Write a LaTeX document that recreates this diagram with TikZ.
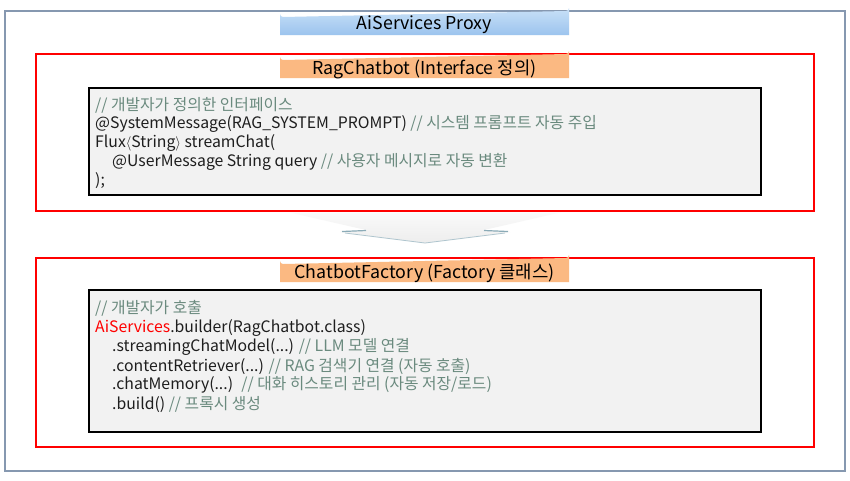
\documentclass[tikz,border=0pt]{standalone}
\usepackage{fontspec}
\setmainfont{Noto Sans CJK KR}
\usetikzlibrary{shadings}
\definecolor{frameblue}{RGB}{134,152,176}
\definecolor{codebg}{RGB}{242,242,242}
\definecolor{cmt}{RGB}{106,138,126}
\definecolor{codetxt}{RGB}{30,30,30}
\definecolor{orangebar}{RGB}{251,185,130}
\definecolor{bluetop}{RGB}{200,224,247}
\definecolor{bluebot}{RGB}{156,196,238}
\definecolor{arrowedge}{RGB}{110,150,165}
\tikzset{
  x=1pt,y=-1pt,
  outerframe/.style={draw=frameblue,line width=2pt},
  redbox/.style={draw=red,line width=1.2pt},
  codebox/.style={draw=black,line width=1.2pt,fill=codebg},
  codeline/.style={anchor=west,inner sep=0pt,font=\fontsize{15.8}{18}\selectfont,text=codetxt},
  titlebar/.style={minimum width=289pt,minimum height=24pt,inner sep=0pt,font=\fontsize{17.8}{20}\selectfont,text=black},
}
\newcommand{\cm}[1]{\textcolor{cmt}{#1}}
\begin{document}
\begin{tikzpicture}
\useasboundingbox (0,0) rectangle (850,480);
\fill[white] (0,0) rectangle (850,480);
% outer frame
\draw[outerframe] (5,11) rectangle (845,471);
% red boxes
\draw[redbox] (36,54) rectangle (814,211);
\draw[redbox] (36,258) rectangle (814,447);
% code boxes
\draw[codebox] (89,88) rectangle (761,195);
\draw[codebox] (89,290) rectangle (761,432);
% title bars
\path[top color=bluetop,bottom color=bluebot] (280,35) -- (280,14) arc[start angle=180,end angle=90,radius=3] -- (566,11) arc[start angle=90,end angle=0,radius=3] -- (569,35) -- cycle;
\node[titlebar] (proxy) at (424.5,25) {AiServices Proxy};
\path[fill=orangebar] (280,78) -- (280,57) arc[start angle=180,end angle=90,radius=3] -- (566,54) arc[start angle=90,end angle=0,radius=3] -- (569,78) -- cycle;
\node[titlebar] (ragtitle) at (424.5,69) {RagChatbot (Interface 정의)};
\path[fill=orangebar] (280,282) -- (280,261) arc[start angle=180,end angle=90,radius=3] -- (566,258) arc[start angle=90,end angle=0,radius=3] -- (569,282) -- cycle;
\node[titlebar] (facttitle) at (424.5,273) {ChatbotFactory (Factory 클래스)};
% arrow between sections
\path[top color=black!2,bottom color=black!7] (290,212.5) -- (560,212.5) -- (484,230) -- (510,232) -- (425,243) -- (340,232) -- (366,230) -- cycle;
\draw[arrowedge!80,line width=1.2pt] (342,231.5) -- (366,230.5);
\draw[arrowedge!80,line width=1.2pt] (508,231.5) -- (484,230.5);
\draw[arrowedge!55,line width=0.8pt] (345,233) -- (425,243) -- (505,233);
% code lines box 1
\node[codeline] (a1) at (95,105) {\cm{// 개발자가 정의한 인터페이스}};
\node[codeline] (a2) at (95,124) {@SystemMessage(RAG\_SYSTEM\_PROMPT) \cm{// 시스템 프롬프트 자동 주입}};
\node[codeline] (a3) at (95,143) {Flux$\langle$String$\rangle$ streamChat(};
\node[codeline] (a4) at (112,162) {@UserMessage String query \cm{// 사용자 메시지로 자동 변환}};
\node[codeline] (a5) at (95,181) {);};
% code lines box 2
\node[codeline] (b1) at (95,308) {\cm{// 개발자가 호출}};
\node[codeline] (b2) at (95,328) {\textcolor{red}{AiServices}.builder(RagChatbot.class)};
\node[codeline] (b3) at (112,347) {.streamingChatModel(...) \cm{// LLM 모델 연결}};
\node[codeline] (b4) at (112,366) {.contentRetriever(...) \cm{// RAG 검색기 연결 (자동 호출)}};
\node[codeline] (b5) at (112,385) {.chatMemory(...)~ \cm{// 대화 히스토리 관리 (자동 저장/로드)}};
\node[codeline] (b6) at (112,405) {.build() \cm{// 프록시 생성}};
\end{tikzpicture}
\end{document}
